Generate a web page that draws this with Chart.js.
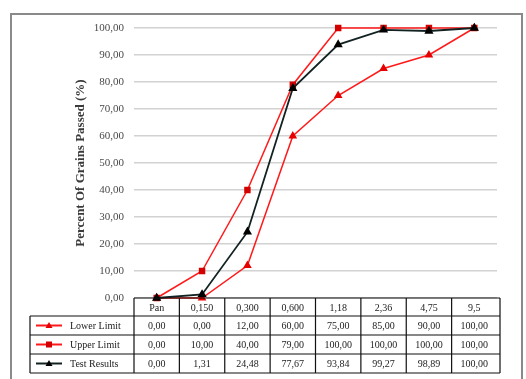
<!DOCTYPE html>
<html>
<head>
<meta charset="utf-8">
<script src="https://cdn.jsdelivr.net/npm/chart.js@4.4.1/dist/chart.umd.min.js"></script>
<style>
  html, body { margin: 0; padding: 0; background: #fff; }
  #wrap { width: 526px; height: 379px; position: relative; }
</style>
</head>
<body>
<div id="wrap"><canvas id="gradChart" width="526" height="379"></canvas></div>
<script>
// sieve sizes (mm) and percent passing for each curve
const sieveSizes = ['Pan', '0,150', '0,300', '0,600', '1,18', '2,36', '4,75', '9,5'];
const lowerLimit = [0, 0, 12, 60, 75, 85, 90, 100];
const upperLimit = [0, 10, 40, 79, 100, 100, 100, 100];
const testResults = [0, 1.31, 24.48, 77.67, 93.84, 99.27, 98.89, 100];
const seriesNames = ['Lower Limit', 'Upper Limit', 'Test Results'];

const fmt = v => v.toFixed(2).replace('.', ',');
const serif = '"Liberation Serif", "Times New Roman", serif';

// frame around the whole figure
const framePlugin = {
  id: 'frame',
  beforeDraw(chart) {
    const ctx = chart.ctx;
    ctx.save();
    ctx.fillStyle = '#fff';
    ctx.fillRect(0, 0, chart.width, chart.height);
    ctx.strokeStyle = '#8a8a8a';
    ctx.lineWidth = 2;
    ctx.strokeRect(11, 14, 511, 366);
    ctx.restore();
  }
};

// data table under the plot, columns follow the category scale
const tablePlugin = {
  id: 'dataTable',
  afterDraw(chart) {
    const ctx = chart.ctx;
    const x = chart.scales.x;
    const area = chart.chartArea;
    const top = area.bottom;
    const headH = 18, rowH = 19;
    const colW = (area.right - area.left) / sieveSizes.length;
    const legLeft = 30;
    const rows = [lowerLimit, upperLimit, testResults];
    const bottom = top + headH + rowH * rows.length;

    ctx.save();
    ctx.fillStyle = '#222';
    ctx.font = '10px ' + serif;
    ctx.textAlign = 'center';
    ctx.textBaseline = 'middle';

    sieveSizes.forEach((s, i) => {
      const cx = x.getPixelForValue(i);
      ctx.fillText(s, cx, top + headH / 2 + 1);
      rows.forEach((r, j) => {
        ctx.fillText(fmt(r[i]), cx, top + headH + rowH * j + rowH / 2 + 1);
      });
    });

    // legend keys in the first column
    chart.data.datasets.forEach((ds, j) => {
      const cy = top + headH + rowH * j + rowH / 2;
      ctx.strokeStyle = ds.borderColor;
      ctx.lineWidth = 2;
      ctx.beginPath();
      ctx.moveTo(36, cy);
      ctx.lineTo(62, cy);
      ctx.stroke();
      ctx.fillStyle = ds.pointBackgroundColor;
      ctx.beginPath();
      if (ds.pointStyle === 'rect') {
        ctx.rect(46, cy - 3, 6, 6);
      } else {
        ctx.moveTo(49, cy - 3.5);
        ctx.lineTo(52.5, cy + 2.5);
        ctx.lineTo(45.5, cy + 2.5);
        ctx.closePath();
      }
      ctx.fill();
      ctx.fillStyle = '#222';
      ctx.textAlign = 'left';
      ctx.fillText(seriesNames[j], 70, cy + 1);
    });

    // grid lines of the table
    ctx.strokeStyle = '#111';
    ctx.lineWidth = 1.2;
    ctx.beginPath();
    ctx.moveTo(area.left, top);
    ctx.lineTo(area.right + 3, top);
    for (let j = 0; j <= rows.length; j++) {
      const y = top + headH + rowH * j;
      ctx.moveTo(legLeft, y);
      ctx.lineTo(area.right + 3, y);
    }
    for (let i = 0; i <= sieveSizes.length; i++) {
      const lx = i === sieveSizes.length ? area.right + 3 : area.left + colW * i;
      ctx.moveTo(lx, top);
      ctx.lineTo(lx, bottom);
    }
    ctx.moveTo(legLeft, top + headH);
    ctx.lineTo(legLeft, bottom);
    ctx.stroke();
    ctx.restore();
  }
};

new Chart(document.getElementById('gradChart'), {
  type: 'line',
  data: {
    labels: sieveSizes,
    datasets: [
      {
        label: seriesNames[0], data: lowerLimit, order: 2,
        borderColor: '#ff1a1a', borderWidth: 1.5,
        pointStyle: 'triangle', pointRadius: 3.5,
        pointBackgroundColor: '#e60000', pointBorderColor: '#e60000'
      },
      {
        label: seriesNames[1], data: upperLimit, order: 1,
        borderColor: '#ff1a1a', borderWidth: 1.5,
        pointStyle: 'rect', pointRadius: 3.5,
        pointBackgroundColor: '#d40000', pointBorderColor: '#d40000'
      },
      {
        label: seriesNames[2], data: testResults, order: 0,
        borderColor: '#122222', borderWidth: 1.8,
        pointStyle: 'triangle', pointRadius: 3.5,
        pointBackgroundColor: '#000', pointBorderColor: '#000'
      }
    ]
  },
  options: {
    responsive: false,
    animation: false,
    layout: { padding: { left: 73, right: 29, top: 28, bottom: 81 } },
    clip: false,
    plugins: { legend: { display: false }, tooltip: { enabled: false } },
    scales: {
      x: {
        display: false,
        offset: true
      },
      y: {
        min: 0, max: 100,
        afterFit: s => { s.width = 61; },
        border: { display: false },
        grid: { color: '#d2d2d2', lineWidth: 1.6, drawTicks: false },
        ticks: {
          stepSize: 10, padding: 10, color: '#4a4a4a',
          font: { family: serif, size: 11 },
          callback: v => fmt(v)
        },
        title: {
          display: true, text: 'Percent Of Grains Passed (%)',
          color: '#3a3a3a', padding: 0,
          font: { family: serif, size: 13, weight: 'bold' }
        }
      }
    }
  },
  plugins: [framePlugin, tablePlugin]
});
</script>
</body>
</html>
